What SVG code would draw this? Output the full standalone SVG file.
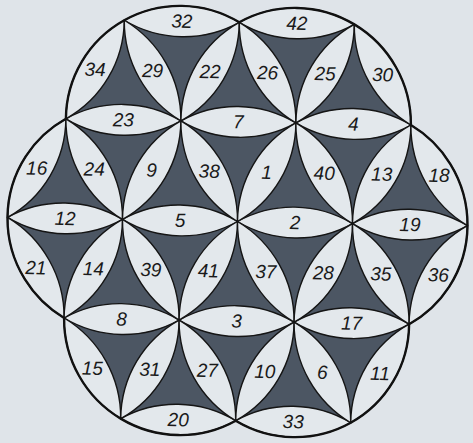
<svg xmlns="http://www.w3.org/2000/svg" xmlns:xlink="http://www.w3.org/1999/xlink" width="473" height="443" viewBox="0 0 473 443">
<style>
.lens{fill:#e3e8ec;stroke:#151515;stroke-width:1.4;stroke-linejoin:round}
.dark{fill:#4c5663}
.outline{fill:none;stroke:#111;stroke-width:2.4}
text{font-family:"Liberation Sans","DejaVu Sans",sans-serif;font-style:italic;font-size:19px;fill:#1a1a1a;text-anchor:middle;dominant-baseline:central}
</style>
<defs>
<path id="L" class="lens" d="M-57.5 0A115 115 0 0 1 57.5 0A115 115 0 0 1 -57.5 0Z"/>
</defs>
<rect width="473" height="443" fill="#dfe4e9"/>
<g transform="matrix(1 0.018 -0.009 1 237.5 221.5)">
<polygon class="dark" points="-230,0 -115,-199.19 115,-199.19 230,0 115,199.19 -115,199.19"/>
<g id="petals">
<g id="p32"><use xlink:href="#L" transform="translate(-57.5 -199.19)"/><text x="-57.5" y="-199.19">32</text></g>
<g id="p42"><use xlink:href="#L" transform="translate(57.5 -199.19)"/><text x="57.5" y="-199.19">42</text></g>
<g id="p23"><use xlink:href="#L" transform="translate(-115 -99.59)"/><text x="-115" y="-99.59">23</text></g>
<g id="p7"><use xlink:href="#L" transform="translate(0 -99.59)"/><text x="0" y="-99.59">7</text></g>
<g id="p4"><use xlink:href="#L" transform="translate(115 -99.59)"/><text x="115" y="-99.59">4</text></g>
<g id="p12"><use xlink:href="#L" transform="translate(-172.5 0)"/><text x="-172.5" y="0">12</text></g>
<g id="p5"><use xlink:href="#L" transform="translate(-57.5 0)"/><text x="-57.5" y="0">5</text></g>
<g id="p2"><use xlink:href="#L" transform="translate(57.5 0)"/><text x="57.5" y="0">2</text></g>
<g id="p19"><use xlink:href="#L" transform="translate(172.5 0)"/><text x="172.5" y="0">19</text></g>
<g id="p8"><use xlink:href="#L" transform="translate(-115 99.59)"/><text x="-115" y="99.59">8</text></g>
<g id="p3"><use xlink:href="#L" transform="translate(0 99.59)"/><text x="0" y="99.59">3</text></g>
<g id="p17"><use xlink:href="#L" transform="translate(115 99.59)"/><text x="115" y="99.59">17</text></g>
<g id="p20"><use xlink:href="#L" transform="translate(-57.5 199.19)"/><text x="-57.5" y="199.19">20</text></g>
<g id="p33"><use xlink:href="#L" transform="translate(57.5 199.19)"/><text x="57.5" y="199.19">33</text></g>

<g id="p34"><use xlink:href="#L" transform="translate(-143.75 -149.39) rotate(-60)"/><text x="-143.75" y="-149.39">34</text></g>
<g id="p29"><use xlink:href="#L" transform="translate(-86.25 -149.39) rotate(60)"/><text x="-86.25" y="-149.39">29</text></g>
<g id="p22"><use xlink:href="#L" transform="translate(-28.75 -149.39) rotate(-60)"/><text x="-28.75" y="-149.39">22</text></g>
<g id="p26"><use xlink:href="#L" transform="translate(28.75 -149.39) rotate(60)"/><text x="28.75" y="-149.39">26</text></g>
<g id="p25"><use xlink:href="#L" transform="translate(86.25 -149.39) rotate(-60)"/><text x="86.25" y="-149.39">25</text></g>
<g id="p30"><use xlink:href="#L" transform="translate(143.75 -149.39) rotate(60)"/><text x="143.75" y="-149.39">30</text></g>

<g id="p16"><use xlink:href="#L" transform="translate(-201.25 -49.8) rotate(-60)"/><text x="-201.25" y="-49.8">16</text></g>
<g id="p24"><use xlink:href="#L" transform="translate(-143.75 -49.8) rotate(60)"/><text x="-143.75" y="-49.8">24</text></g>
<g id="p9"><use xlink:href="#L" transform="translate(-86.25 -49.8) rotate(-60)"/><text x="-86.25" y="-49.8">9</text></g>
<g id="p38"><use xlink:href="#L" transform="translate(-28.75 -49.8) rotate(60)"/><text x="-28.75" y="-49.8">38</text></g>
<g id="p1"><use xlink:href="#L" transform="translate(28.75 -49.8) rotate(-60)"/><text x="28.75" y="-49.8">1</text></g>
<g id="p40"><use xlink:href="#L" transform="translate(86.25 -49.8) rotate(60)"/><text x="86.25" y="-49.8">40</text></g>
<g id="p13"><use xlink:href="#L" transform="translate(143.75 -49.8) rotate(-60)"/><text x="143.75" y="-49.8">13</text></g>
<g id="p18"><use xlink:href="#L" transform="translate(201.25 -49.8) rotate(60)"/><text x="201.25" y="-49.8">18</text></g>

<g id="p21"><use xlink:href="#L" transform="translate(-201.25 49.8) rotate(60)"/><text x="-201.25" y="49.8">21</text></g>
<g id="p14"><use xlink:href="#L" transform="translate(-143.75 49.8) rotate(-60)"/><text x="-143.75" y="49.8">14</text></g>
<g id="p39"><use xlink:href="#L" transform="translate(-86.25 49.8) rotate(60)"/><text x="-86.25" y="49.8">39</text></g>
<g id="p41"><use xlink:href="#L" transform="translate(-28.75 49.8) rotate(-60)"/><text x="-28.75" y="49.8">41</text></g>
<g id="p37"><use xlink:href="#L" transform="translate(28.75 49.8) rotate(60)"/><text x="28.75" y="49.8">37</text></g>
<g id="p28"><use xlink:href="#L" transform="translate(86.25 49.8) rotate(-60)"/><text x="86.25" y="49.8">28</text></g>
<g id="p35"><use xlink:href="#L" transform="translate(143.75 49.8) rotate(60)"/><text x="143.75" y="49.8">35</text></g>
<g id="p36"><use xlink:href="#L" transform="translate(201.25 49.8) rotate(-60)"/><text x="201.25" y="49.8">36</text></g>

<g id="p15"><use xlink:href="#L" transform="translate(-143.75 149.39) rotate(60)"/><text x="-143.75" y="149.39">15</text></g>
<g id="p31"><use xlink:href="#L" transform="translate(-86.25 149.39) rotate(-60)"/><text x="-86.25" y="149.39">31</text></g>
<g id="p27"><use xlink:href="#L" transform="translate(-28.75 149.39) rotate(60)"/><text x="-28.75" y="149.39">27</text></g>
<g id="p10"><use xlink:href="#L" transform="translate(28.75 149.39) rotate(-60)"/><text x="28.75" y="149.39">10</text></g>
<g id="p6"><use xlink:href="#L" transform="translate(86.25 149.39) rotate(60)"/><text x="86.25" y="149.39">6</text></g>
<g id="p11"><use xlink:href="#L" transform="translate(143.75 149.39) rotate(-60)"/><text x="143.75" y="149.39">11</text></g>
</g>
<path class="outline" d="M-172.5 -99.59A115 115 0 0 1 0 -199.19A115 115 0 0 1 172.5 -99.59A115 115 0 0 1 172.5 99.59A115 115 0 0 1 0 199.19A115 115 0 0 1 -172.5 99.59A115 115 0 0 1 -172.5 -99.59Z"/>
</g>
</svg>
